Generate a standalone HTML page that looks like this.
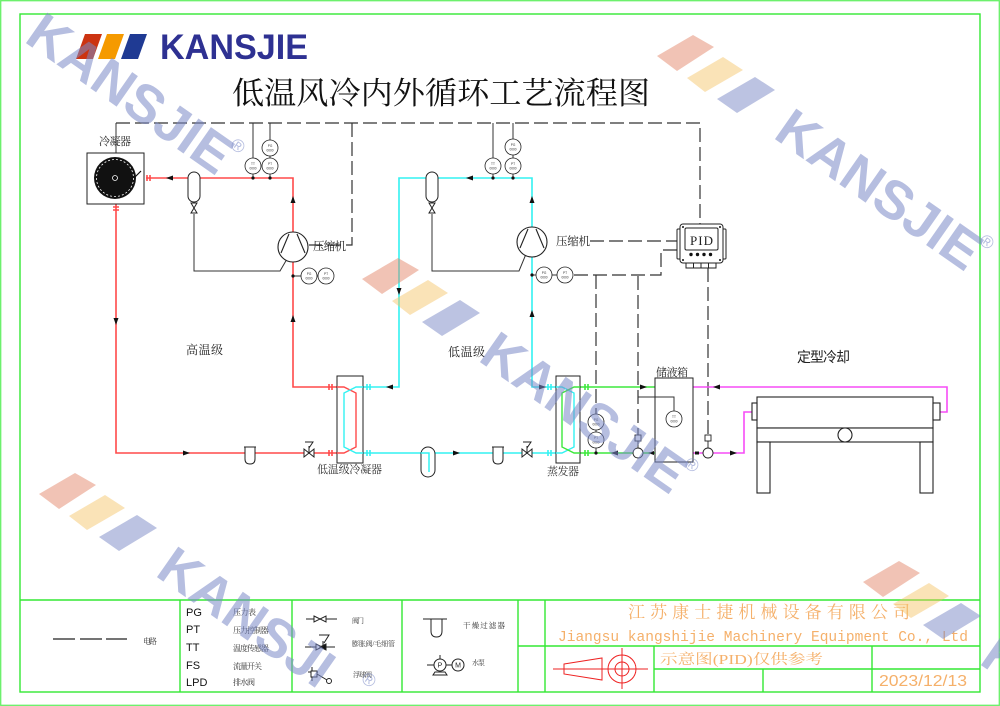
<!DOCTYPE html>
<html><head><meta charset="utf-8"><style>
html,body{margin:0;padding:0;background:#fff;width:1000px;height:706px;overflow:hidden;}
svg{display:block;overflow:hidden;}
.cj{font-family:"Liberation Serif","Noto Serif CJK SC",serif;}
.cs{font-family:"Liberation Sans","Noto Sans CJK SC",sans-serif;}
</style></head><body>
<svg width="1000" height="706" viewBox="0 0 1000 706" xmlns="http://www.w3.org/2000/svg">
<rect width="1000" height="706" fill="#fff"/>
<!-- borders -->
<rect x="0.7" y="0.7" width="998.6" height="704.6" fill="none" stroke="#66f066" stroke-width="1.3"/>
<rect x="20" y="14" width="960" height="678" fill="none" stroke="#33e833" stroke-width="1.4"/>
<path d="M20,600 H980 M180,600 V692 M292,600 V692 M402,600 V692 M518,600 V692 M545,600 V692 M518,646 H980 M654,646 V692 M654,669 H980 M763,669 V692 M872,646 V692" stroke="#33e833" stroke-width="1.4" fill="none"/>

<!-- logo -->
<polygon points="76,59 85,34 102,34 93,59" fill="#cc3311"/>
<polygon points="98,59 107,34 124,34 115,59" fill="#f59a00"/>
<polygon points="121,59 130,34 147,34 138,59" fill="#1f3a93"/>
<text x="160" y="59" font-family="Liberation Sans, sans-serif" font-weight="bold" font-size="35" fill="#2e3192" textLength="148" lengthAdjust="spacingAndGlyphs">KANSJIE</text>

<!-- title -->
<text class="cj" x="232" y="104" font-size="31" fill="#111" textLength="418" lengthAdjust="spacingAndGlyphs">低温风冷内外循环工艺流程图</text>

<!-- dashed control lines -->
<g stroke="#333" stroke-width="1.2" fill="none" stroke-dasharray="14 5">
<path d="M116,123 H700 V224"/>
<path d="M352,123 V245 H309"/>
<path d="M590,241 H677"/>
<path d="M574,275 H661 V250 H677"/>
<path d="M596,275 V414"/>
<path d="M638,276 V435"/>
<path d="M708,268 V435"/>
</g>
<!-- thin solid lines -->
<g stroke="#333" stroke-width="1" fill="none">
<path d="M116,123 V153"/>
<path d="M253,123 V158 M253,174 V178"/>
<path d="M270,123 V140 M270,156 V158 M270,174 V178"/>
<path d="M493,123 V158 M493,174 V178"/>
<path d="M513,123 V139 M513,155 V158 M513,174 V178"/>
<path d="M293,276 H301 M317,276 H318"/>
<path d="M532,275 H536 M552,275 H557"/>
<path d="M596,430 V432 M596,448 V453"/>
<path d="M638,397 H674 V411"/>
<path d="M194,214 V271 H280 L287,259"/>
<path d="M432,214 V271 H519 L526,254"/>
</g>

<!-- RED loop -->
<g stroke="#ff4a4a" stroke-width="1.6" fill="none">
<path d="M146,178 H293 V387 H337"/>
<path d="M116,204 V453 H337"/>
<path d="M147,175 V181 M150,175 V181 M113,207 H119 M113,210 H119 M329,384 V390 M332,384 V390 M329,450 V456 M332,450 V456"/>
</g>
<!-- CYAN loop -->
<g stroke="#33f2f2" stroke-width="1.6" fill="none">
<path d="M363,387 H399 V178 H532 V387 H556"/>
<path d="M363,453 H556"/>
<path d="M367,384 V390 M370,384 V390 M367,450 V456 M370,450 V456 M548,384 V390 M551,384 V390 M548,450 V456 M551,450 V456"/>
</g>
<!-- GREEN -->
<g stroke="#3de83d" stroke-width="1.6" fill="none">
<path d="M580,387 H655"/>
<path d="M580,453 H655"/>
<path d="M585,384 V390 M588,384 V390 M585,450 V456 M588,450 V456"/>
</g>
<!-- MAGENTA -->
<g stroke="#f64df6" stroke-width="1.6" fill="none">
<path d="M693,387 H947 V412 H940"/>
<path d="M693,453 H744 V412 H752"/>
</g>

<!-- condenser -->
<text class="cj" x="99" y="145" font-size="11" fill="#222" textLength="32">冷凝器</text>
<rect x="87" y="153" width="57" height="51" fill="#fff" stroke="#222" stroke-width="1"/>
<circle cx="115" cy="178" r="21" fill="#111"/>
<circle cx="115" cy="178" r="18.5" fill="none" stroke="#fff" stroke-width="0.8" stroke-dasharray="2 2"/>
<circle cx="115" cy="178" r="2.5" fill="none" stroke="#fff" stroke-width="0.8"/>
<path d="M134,178 L141,171" stroke="#111" stroke-width="1.2"/>

<!-- receivers -->
<g stroke="#222" stroke-width="1" fill="#fff">
<rect x="188" y="172" width="12" height="30" rx="6"/>
<polygon points="191,203 197,213 191,213 197,203"/>
<rect x="426" y="172" width="12" height="30" rx="6"/>
<polygon points="429,203 435,213 429,213 435,203"/>
<rect x="421" y="447" width="14" height="30" rx="7"/>
</g>
<path d="M421,453 H429 V472" stroke="#33f2f2" stroke-width="1.5" fill="none"/>

<!-- compressors -->
<g stroke="#222" stroke-width="1.1" fill="#fff">
<circle cx="293" cy="247" r="15"/>
<path d="M281,253 L289,234 M297,234 L305,253" fill="none"/>
<circle cx="532" cy="242" r="15"/>
<path d="M520,248 L528,229 M536,229 L544,248" fill="none"/>
</g>
<text class="cj" x="313" y="250" font-size="11.5" fill="#222" textLength="33">压缩机</text>
<text class="cj" x="556" y="245" font-size="11.5" fill="#222" textLength="34">压缩机</text>

<!-- sensors -->
<g stroke="#222" stroke-width="0.8" fill="#fff">
<circle cx="253" cy="166" r="8"/><circle cx="270" cy="148" r="8"/><circle cx="270" cy="166" r="8"/>
<circle cx="493" cy="166" r="8"/><circle cx="513" cy="147" r="8"/><circle cx="513" cy="166" r="8"/>
<circle cx="309" cy="276" r="8"/><circle cx="326" cy="276" r="8"/>
<circle cx="544" cy="275" r="8"/><circle cx="565" cy="275" r="8"/>
<circle cx="596" cy="422" r="8"/><circle cx="596" cy="440" r="8"/>
<circle cx="674" cy="419" r="8"/>
</g>
<g font-family="Liberation Sans, sans-serif" font-size="3.2" fill="#333" text-anchor="middle">
<text x="253" y="165">TT</text><text x="253" y="169.5">0000</text>
<text x="270" y="147">PG</text><text x="270" y="151.5">0000</text>
<text x="270" y="165">PT</text><text x="270" y="169.5">0000</text>
<text x="493" y="165">TT</text><text x="493" y="169.5">0000</text>
<text x="513" y="146">PG</text><text x="513" y="150.5">0000</text>
<text x="513" y="165">PT</text><text x="513" y="169.5">0000</text>
<text x="309" y="275">PG</text><text x="309" y="279.5">0000</text>
<text x="326" y="275">PT</text><text x="326" y="279.5">0000</text>
<text x="544" y="274">PG</text><text x="544" y="278.5">0000</text>
<text x="565" y="274">PT</text><text x="565" y="278.5">0000</text>
<text x="596" y="421">PG</text><text x="596" y="425.5">0000</text>
<text x="596" y="439">PT</text><text x="596" y="443.5">0000</text>
<text x="674" y="418">TT</text><text x="674" y="422.5">0000</text>
</g>
<g fill="#111">
<circle cx="253" cy="178" r="1.6"/><circle cx="270" cy="178" r="1.6"/>
<circle cx="493" cy="178" r="1.6"/><circle cx="513" cy="178" r="1.6"/>
<circle cx="293" cy="276" r="1.6"/><circle cx="532" cy="275" r="1.6"/>
<circle cx="596" cy="453" r="1.6"/>
</g>

<!-- low temp condenser -->
<rect x="337" y="376" width="26" height="87" fill="#fff" stroke="#222" stroke-width="1"/>
<path d="M337,387 H344 L356,393 V447 L344,453 H337" stroke="#ff4a4a" stroke-width="1.4" fill="none"/>
<path d="M363,387 H356 L344,393 V447 L356,453 H363" stroke="#33f2f2" stroke-width="1.4" fill="none"/>
<text class="cj" x="317" y="473" font-size="11" fill="#333" textLength="65">低温级冷凝器</text>

<!-- evaporator -->
<rect x="556" y="376" width="24" height="87" fill="#fff" stroke="#222" stroke-width="1"/>
<path d="M556,387 H562 L574,393 V447 L562,453 H556" stroke="#33f2f2" stroke-width="1.4" fill="none"/>
<path d="M580,387 H574 L562,393 V447 L574,453 H580" stroke="#3de83d" stroke-width="1.4" fill="none"/>
<text class="cj" x="547" y="475" font-size="11" fill="#333" textLength="32">蒸发器</text>

<!-- filters -->
<g stroke="#222" stroke-width="1" fill="#fff">
<path d="M244,447 H256 M245,447 V459 Q245,464 250,464 Q255,464 255,459 V447"/>
<path d="M492,447 H504 M493,447 V459 Q493,464 498,464 Q503,464 503,459 V447"/>
</g>
<!-- expansion valves -->
<g stroke="#222" stroke-width="1" fill="#fff">
<polygon points="304,449 314,457 314,449 304,457"/>
<path d="M309,453 V446 M305,442 H313 L309,448" fill="none"/>
<polygon points="522,449 532,457 532,449 522,457"/>
<path d="M527,453 V446 M523,442 H531 L527,448" fill="none"/>
</g>

<!-- arrows -->
<g fill="#111">
<polygon points="166,178 173,175.5 173,180.5"/>
<polygon points="293,196 290.5,203 295.5,203"/>
<polygon points="293,315 290.5,322 295.5,322"/>
<polygon points="116,325 113.5,318 118.5,318"/>
<polygon points="190,453 183,450.5 183,455.5"/>
<polygon points="466,178 473,175.5 473,180.5"/>
<polygon points="532,196 529.5,203 534.5,203"/>
<polygon points="532,310 529.5,317 534.5,317"/>
<polygon points="399,295 396.5,288 401.5,288"/>
<polygon points="386,387 393,384.5 393,389.5"/>
<polygon points="546,387 539,384.5 539,389.5"/>
<polygon points="460,453 453,450.5 453,455.5"/>
<polygon points="647,387 640,384.5 640,389.5"/>
<polygon points="611,453 618,450.5 618,455.5"/>
<polygon points="648,453 654,451 654,455"/>
<polygon points="713,387 720,384.5 720,389.5"/>
<polygon points="737,453 730,450.5 730,455.5"/>
<rect x="695" y="451.5" width="4" height="3"/>
</g>

<!-- storage tank -->
<text class="cj" x="656" y="376" font-size="11" fill="#222" textLength="32">储液箱</text>
<rect x="655" y="378" width="38" height="84" fill="none" stroke="#222" stroke-width="1"/>
<!-- flow switches -->
<g stroke="#222" stroke-width="0.9" fill="#fff">
<rect x="635" y="435" width="6" height="6"/><circle cx="638" cy="453" r="5"/>
<rect x="705" y="435" width="6" height="6"/><circle cx="708" cy="453" r="5"/>
</g>
<path d="M638,441 V448 M708,441 V448" stroke="#222" stroke-width="0.9"/>

<!-- PID -->
<g stroke="#222" stroke-width="1" fill="#fff">
<rect x="677" y="229" width="4" height="30" rx="1"/>
<rect x="722" y="229" width="4" height="30" rx="1"/>
<rect x="686" y="262" width="30" height="6"/>
<path d="M693.5,262 V268 M701,262 V268 M708.5,262 V268" fill="none"/>
<rect x="680" y="224" width="43" height="39" rx="3"/>
<rect x="685" y="228" width="33" height="22" rx="1.5"/>
</g>
<text x="701.5" y="245" text-anchor="middle" font-family="Liberation Serif, serif" font-size="13" fill="#222" textLength="23">PID</text>
<g fill="#111">
<circle cx="691" cy="254.5" r="1.7"/><circle cx="697.5" cy="254.5" r="1.7"/><circle cx="704" cy="254.5" r="1.7"/><circle cx="710.5" cy="254.5" r="1.7"/>
<circle cx="683" cy="227" r="1"/><circle cx="720" cy="227" r="1"/><circle cx="683" cy="260" r="1"/><circle cx="720" cy="260" r="1"/>
</g>

<!-- cooling table -->
<text class="cs" x="797" y="362" font-size="14" fill="#222" textLength="53">定型冷却</text>
<g stroke="#222" stroke-width="1.1" fill="#fff">
<rect x="757" y="397" width="176" height="31"/>
<rect x="752" y="403" width="5" height="17"/>
<rect x="933" y="403" width="7" height="17"/>
<rect x="757" y="428" width="176" height="14"/>
<circle cx="845" cy="435" r="7"/>
<rect x="757" y="442" width="13" height="51"/>
<rect x="920" y="442" width="13" height="51"/>
</g>

<!-- stage labels -->
<text class="cj" x="186" y="354" font-size="12" fill="#222" textLength="37">高温级</text>
<text class="cj" x="448" y="356" font-size="12" fill="#222" textLength="37">低温级</text>

<!-- legend -->
<path d="M53,639 H75 M80,639 H102 M106,639 H127" stroke="#222" stroke-width="1.2"/>
<text class="cj" x="143" y="644" font-size="8" fill="#333" textLength="14">电路</text>
<g font-family="Liberation Sans, sans-serif" font-size="11" fill="#111">
<text x="186" y="616">PG</text>
<text x="186" y="633">PT</text>
<text x="186" y="651">TT</text>
<text x="186" y="669">FS</text>
<text x="186" y="686">LPD</text>
</g>
<g class="cj" font-size="8" fill="#333">
<text x="233" y="615" textLength="23">压力表</text>
<text x="233" y="633" textLength="36">压力控制器</text>
<text x="233" y="651" textLength="36">温度传感器</text>
<text x="233" y="669" textLength="29">流量开关</text>
<text x="233" y="685" textLength="22">排水阀</text>
<text x="352" y="623" font-size="7" textLength="12">阀门</text>
<text x="352" y="646" font-size="7" textLength="43">膨胀阀/毛细管</text>
<text x="353" y="677" font-size="7" textLength="19">浮球阀</text>
<text x="463" y="628" font-size="7.5" textLength="42">干燥过滤器</text>
<text x="472" y="665" font-size="7" textLength="13">水泵</text>
</g>
<g stroke="#222" stroke-width="1" fill="#fff">
<path d="M306,619 H337" fill="none"/>
<polygon points="314,616 326,622 326,616 314,622"/>
<path d="M305,647 H335" fill="none"/>
<polygon points="316,644 322,647 316,650"/>
<polygon points="326,644 320,647 326,650" fill="#111"/>
<path d="M323,647 V641 M319,635 H329 L324,643" fill="none"/>
<path d="M308,672 H318 M312,667 V681" fill="none"/>
<rect x="311" y="671" width="6" height="6"/>
<path d="M317,674 L327,680" fill="none"/>
<circle cx="329" cy="681" r="2.5"/>
<path d="M423,619 H447 M431,619 V631 Q431,637 436.5,637 Q442,637 442,631 V619" fill="none"/>
<path d="M427,665 H434 M446,665 H452 M440,655 V659" fill="none"/>
<circle cx="440" cy="665" r="6"/>
<circle cx="458" cy="665" r="6"/>
<path d="M435,672 H445 L447,675 H433 Z"/>
</g>
<text x="440" y="667.5" text-anchor="middle" font-family="Liberation Sans, sans-serif" font-size="7" fill="#222">P</text>
<text x="458" y="667.5" text-anchor="middle" font-family="Liberation Sans, sans-serif" font-size="7" fill="#222">M</text>

<!-- title block -->
<text class="cj" x="628" y="618" font-size="17" fill="#f5b06a" textLength="282" lengthAdjust="spacing">江苏康士捷机械设备有限公司</text>
<text x="558" y="641" font-family="Liberation Mono, monospace" font-size="14.5" fill="#f5b06a" textLength="410" lengthAdjust="spacingAndGlyphs">Jiangsu kangshijie Machinery Equipment Co., Ltd</text>
<text class="cj" x="660" y="664" font-size="14" fill="#f5b06a" textLength="163" lengthAdjust="spacingAndGlyphs">示意图(PID)仅供参考</text>
<text x="879" y="686" font-family="Liberation Sans, sans-serif" font-size="16" fill="#f5b06a" textLength="88" lengthAdjust="spacingAndGlyphs">2023/12/13</text>
<g stroke="#ee2222" stroke-width="1" fill="none">
<path d="M553,669 H648 M622,648 V689"/>
<polygon points="564,664 602,658 602,680 564,674"/>
<circle cx="622" cy="669" r="14"/>
<circle cx="622" cy="669" r="7"/>
</g>

<!-- watermarks -->
<g transform="translate(0,0)">
<polygon points="657,56 693,35 714,47 677,71" fill="#e07a5c" fill-opacity="0.45"/>
<polygon points="687,78 723,57 743,70 705,92" fill="#f5c060" fill-opacity="0.45"/>
<polygon points="717,99 755,77 775,90 737,113" fill="#7a88c6" fill-opacity="0.5"/>
<text transform="translate(772,137) rotate(35)" font-family="Liberation Sans, sans-serif" font-weight="bold" font-size="54" fill="#7a88c6" fill-opacity="0.55" textLength="236" lengthAdjust="spacingAndGlyphs">KANSJIE</text>
<text transform="translate(978,243) rotate(35)" font-family="Liberation Sans, sans-serif" font-size="18" fill="#7a88c6" fill-opacity="0.55">®</text>
</g>
<g transform="translate(-749,-96)">
<text transform="translate(772,137) rotate(35)" font-family="Liberation Sans, sans-serif" font-weight="bold" font-size="54" fill="#7a88c6" fill-opacity="0.55" textLength="236" lengthAdjust="spacingAndGlyphs">KANSJIE</text>
<text transform="translate(978,243) rotate(35)" font-family="Liberation Sans, sans-serif" font-size="18" fill="#7a88c6" fill-opacity="0.55">®</text>
</g>
<g transform="translate(-295,223)">
<polygon points="657,56 693,35 714,47 677,71" fill="#e07a5c" fill-opacity="0.45"/>
<polygon points="687,78 723,57 743,70 705,92" fill="#f5c060" fill-opacity="0.45"/>
<polygon points="717,99 755,77 775,90 737,113" fill="#7a88c6" fill-opacity="0.5"/>
<text transform="translate(772,137) rotate(35)" font-family="Liberation Sans, sans-serif" font-weight="bold" font-size="54" fill="#7a88c6" fill-opacity="0.55" textLength="236" lengthAdjust="spacingAndGlyphs">KANSJIE</text>
<text transform="translate(978,243) rotate(35)" font-family="Liberation Sans, sans-serif" font-size="18" fill="#7a88c6" fill-opacity="0.55">®</text>
</g>
<g transform="translate(-618,438)">
<polygon points="657,56 693,35 714,47 677,71" fill="#e07a5c" fill-opacity="0.45"/>
<polygon points="687,78 723,57 743,70 705,92" fill="#f5c060" fill-opacity="0.45"/>
<polygon points="717,99 755,77 775,90 737,113" fill="#7a88c6" fill-opacity="0.5"/>
<text transform="translate(772,137) rotate(35)" font-family="Liberation Sans, sans-serif" font-weight="bold" font-size="54" fill="#7a88c6" fill-opacity="0.55" textLength="200" lengthAdjust="spacingAndGlyphs">KANSJI</text>
<text transform="translate(978,243) rotate(35)" font-family="Liberation Sans, sans-serif" font-size="18" fill="#7a88c6" fill-opacity="0.55">®</text>
</g>
<g transform="translate(206,526)">
<polygon points="657,56 693,35 714,47 677,71" fill="#e07a5c" fill-opacity="0.45"/>
<polygon points="687,78 723,57 743,70 705,92" fill="#f5c060" fill-opacity="0.45"/>
<polygon points="717,99 755,77 775,90 737,113" fill="#7a88c6" fill-opacity="0.5"/>
<text transform="translate(772,137) rotate(35)" font-family="Liberation Sans, sans-serif" font-weight="bold" font-size="54" fill="#7a88c6" fill-opacity="0.55">K</text>
</g>
</svg>
</body></html>
